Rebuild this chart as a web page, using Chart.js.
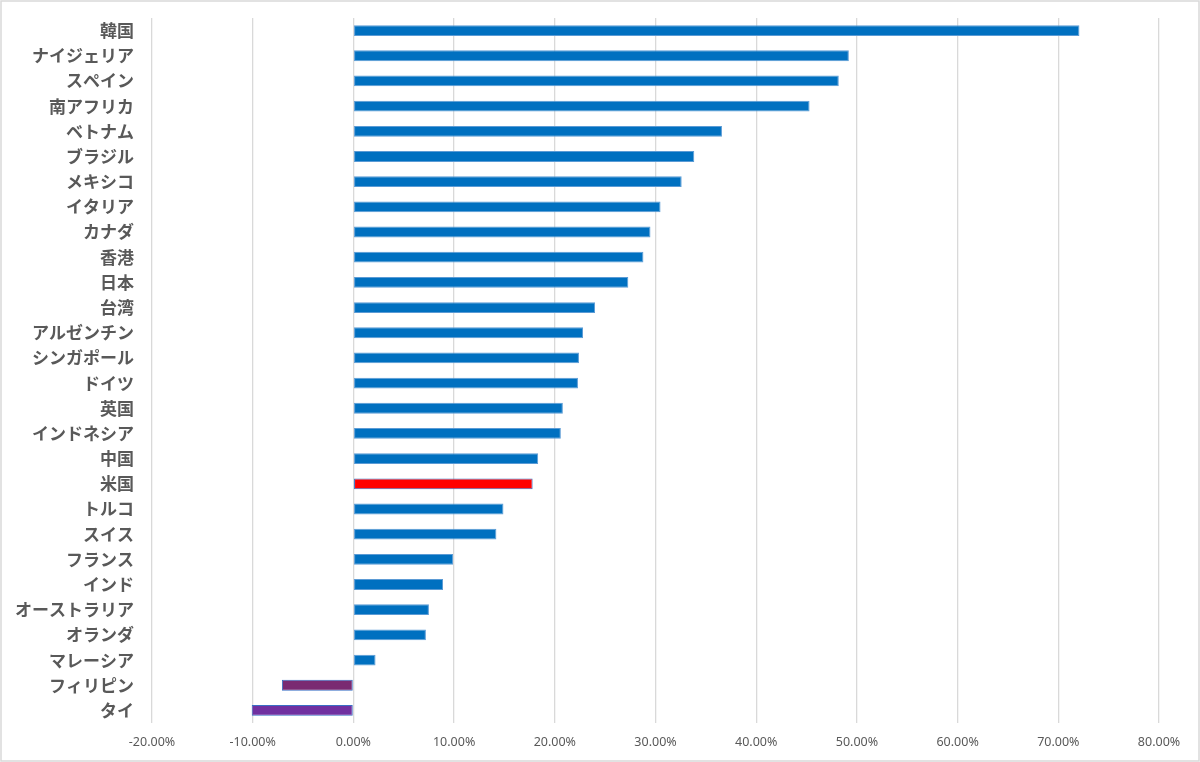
<!DOCTYPE html>
<html>
<head>
<meta charset="utf-8">
<script src="https://cdn.jsdelivr.net/npm/chart.js@4/dist/chart.umd.min.js"></script>
<style>
html,body{margin:0;padding:0;background:#fff;}
canvas{display:block;}
</style>
</head>
<body>
<canvas id="c" width="1200" height="762"></canvas>
<script>
const categories = ["韓国","ナイジェリア","スペイン","南アフリカ","ベトナム","ブラジル","メキシコ","イタリア","カナダ","香港","日本","台湾","アルゼンチン","シンガポール","ドイツ","英国","インドネシア","中国","米国","トルコ","スイス","フランス","インド","オーストラリア","オランダ","マレーシア","フィリピン","タイ"];
const values = [72.1,49.2,48.2,45.3,36.6,33.85,32.6,30.5,29.5,28.8,27.3,24.0,22.8,22.4,22.3,20.8,20.6,18.35,17.8,14.9,14.2,9.9,8.9,7.5,7.2,2.2,-7.1,-10.1];
const tickMin = -20, tickMax = 80, tickStep = 10;

const blue = "#0070C0";
const fills = categories.map(c => c === "米国" ? "#FF0000" : c === "フィリピン" ? "#7A2A72" : c === "タイ" ? "#7030A0" : blue);
const borders = categories.map(c => (c === "米国" || c === "フィリピン" || c === "タイ") ? "#3A6FC4" : "#5B9BD5");

const frame = {
  id: 'frame',
  afterDraw(chart) {
    const ctx = chart.ctx;
    ctx.save();
    ctx.strokeStyle = '#D9D9D9';
    ctx.lineWidth = 1.5;
    ctx.strokeRect(1, 1, chart.width - 2, chart.height - 2);
    ctx.restore();
  }
};

new Chart(document.getElementById('c'), {
  type: 'bar',
  data: {
    labels: categories,
    datasets: [{
      data: values,
      backgroundColor: fills,
      borderColor: borders,
      borderWidth: 1,
      borderSkipped: false,
      categoryPercentage: 1,
      barPercentage: 0.43
    }]
  },
  options: {
    indexAxis: 'y',
    responsive: false,
    animation: false,
    layout: { padding: { left: 0, right: 41, top: 18, bottom: 0 } },
    plugins: { legend: { display: false }, tooltip: { enabled: false } },
    scales: {
      x: {
        min: tickMin, max: tickMax,
        ticks: {
          stepSize: tickStep,
          color: '#595959',
          font: { family: "'Noto Sans', 'Liberation Sans', sans-serif", size: 12.5 },
          padding: 12,
          callback: v => v.toFixed(2) + '%'
        },
        grid: { color: '#D9D9D9', lineWidth: 1.3, drawTicks: false },
        border: { display: false },
        afterFit(scale) { scale.height = 39; scale.paddingLeft = 0; scale.paddingRight = 0; }
      },
      y: {
        ticks: {
          color: '#595959',
          font: { family: "'Noto Sans CJK JP', sans-serif", size: 17, weight: 'bold' },
          padding: 18,
          autoSkip: false
        },
        grid: { display: false, drawTicks: false },
        border: { display: false },
        afterFit(scale) { scale.width = 152; scale.paddingTop = 0; scale.paddingBottom = 0; }
      }
    }
  },
  plugins: [frame]
});
</script>
</body>
</html>
